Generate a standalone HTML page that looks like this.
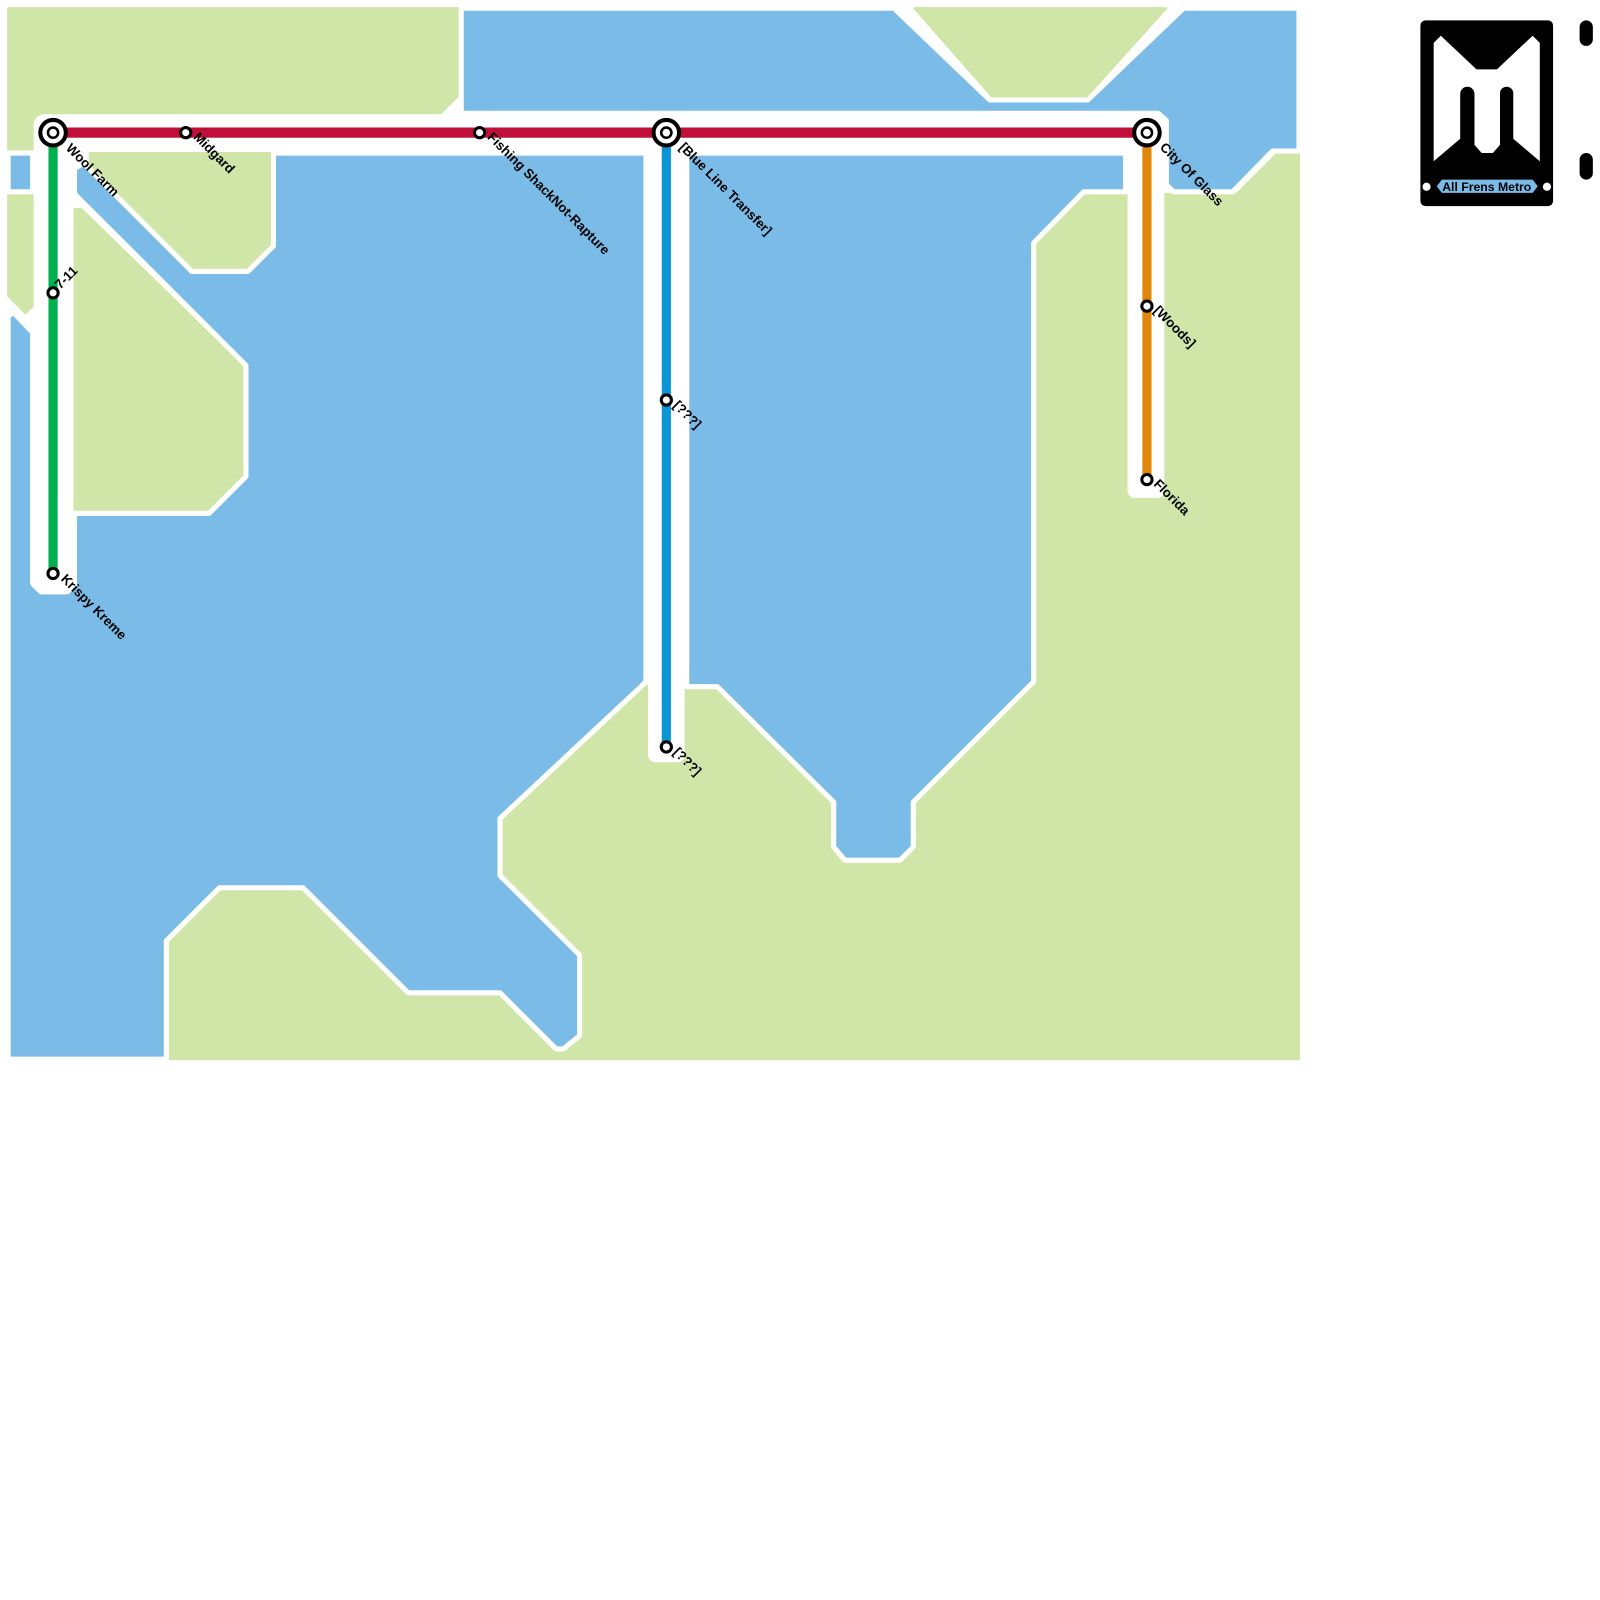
<!DOCTYPE html>
<html><head><meta charset="utf-8"><style>
html,body{margin:0;padding:0;background:#fff;}
svg{display:block;}
text{font-family:"Liberation Sans",Arial,sans-serif;font-weight:bold;font-size:13px;fill:#000;}
</style></head><body>
<svg width="1600" height="1600" viewBox="0 0 1568 1568" xmlns="http://www.w3.org/2000/svg">
<g fill="#d0e5a8" stroke="#d0e5a8" stroke-width="2" stroke-linejoin="round">
<polygon points="8,8 450,8 450,93 432,111 40,111 32,119 32,150 8,150"/>
<polygon points="896,8 1143,8 1062,98 975,98"/>
<polygon points="8,190 32,190 32,300 25,307 8,290"/>
<polygon points="88,150 267,150 267,240 240,268 190,268 88,166"/>
<polygon points="73,205 80,205 241,362 241,465 203,503 73,503"/>
<polygon points="163,860 490,760 633,672 1013,672 1013,240 1064,190 1212,190 1252,150 1273,150 1273,1038 163,1038"/>
</g>
<g fill="#7abce7" stroke="#fff" stroke-width="5" stroke-linejoin="round">
<polygon points="73,165 82,160 188,266 243,266 268,241 268,150 633,150 633,668 627,674 490,802 490,858 568,936 568,1015 552,1028 545,1028 490,973 400,973 297,870 215,870 163,922 163,1038 8,1038 8,310 13,306 32,326 32,572 40,580 66,580 73,573 73,503 205,503 241,467 241,358 73,190"/>
<rect x="8" y="150" width="24" height="38"/>
<polygon points="452,8 876,8 970,98 1066,98 1160,8 1273,8 1273,148 1247,148 1208,188 1150,188 1143,181 1143,118 1135,111 452,111"/>
<polygon points="673,150 1103,150 1103,188 1062,188 1013,238 1013,668 895,786 895,830 882,843 828,843 817,830 817,786 703,673 673,673"/>
</g>
<g fill="#fff">
<rect x="34" y="113" width="1107" height="35" rx="7"/>
<rect x="34" y="113" width="37" height="465" rx="7"/>
<rect x="635" y="113" width="36" height="634" rx="7"/>
<rect x="1105" y="113" width="36" height="375" rx="7"/>
</g>
<g stroke-linecap="butt" fill="none">
<line x1="52" y1="130" x2="52" y2="562" stroke="#00b050" stroke-width="9"/>
<line x1="653" y1="130" x2="653" y2="732" stroke="#0a95d5" stroke-width="9"/>
<line x1="1124" y1="130" x2="1124" y2="470" stroke="#e0870a" stroke-width="9"/>
<line x1="52" y1="130" x2="1124" y2="130" stroke="#c0103a" stroke-width="10"/>
</g>
<g fill="#fff" stroke="#000">
<circle cx="52" cy="130" r="12.5" stroke-width="4"/><circle cx="52" cy="130" r="5" stroke-width="2.5"/>
<circle cx="653" cy="130" r="12.5" stroke-width="4"/><circle cx="653" cy="130" r="5" stroke-width="2.5"/>
<circle cx="1124" cy="130" r="12.5" stroke-width="4"/><circle cx="1124" cy="130" r="5" stroke-width="2.5"/>
<g stroke-width="3">
<circle cx="182" cy="130" r="5"/><circle cx="470" cy="130" r="5"/>
<circle cx="52" cy="287" r="5"/><circle cx="52" cy="562" r="5"/>
<circle cx="653" cy="392" r="5"/><circle cx="653" cy="732" r="5"/>
<circle cx="1124" cy="300" r="5"/><circle cx="1124" cy="470" r="5"/>
</g>
</g>
<text transform="translate(64,146) rotate(45)">Wool Farm</text>
<text transform="translate(189,135) rotate(45)">Midgard</text>
<text transform="translate(477,135) rotate(45)">Fishing ShackNot-Rapture</text>
<text transform="translate(665,145) rotate(45)">[Blue Line Transfer]</text>
<text transform="translate(1136,145) rotate(45)">City Of Glass</text>
<text transform="translate(59,284) rotate(-45)">7-11</text>
<text transform="translate(59,568) rotate(45)">Krispy Kreme</text>
<text transform="translate(659,398) rotate(45)">[???]</text>
<text transform="translate(659,738) rotate(45)">[???]</text>
<text transform="translate(1130,305) rotate(45)">[Woods]</text>
<text transform="translate(1130,475) rotate(45)">Florida</text>
<rect x="1392" y="20" width="130" height="182" rx="5" fill="#000"/>
<polygon points="1405,42 1412,35 1447,68 1467,68 1502,35 1509,42 1509,158 1483,136 1470,136 1470,142 1463,150 1452,150 1445,142 1445,136 1431,136 1405,158" fill="#fff"/>
<rect x="1431" y="85" width="14" height="58" rx="7" fill="#000"/>
<rect x="1470" y="85" width="13" height="58" rx="6.5" fill="#000"/>
<rect x="1548" y="20" width="13" height="25" rx="6.5" fill="#000"/>
<rect x="1548" y="150" width="13" height="26" rx="6.5" fill="#000"/>
<polygon points="1413,176 1502,176 1507,182.5 1502,189 1413,189 1408,182.5" fill="#7abce7"/>
<text x="1457" y="187" text-anchor="middle" style="font-size:12px">All Frens Metro</text>
<circle cx="1398" cy="183" r="4" fill="#fff"/>
<circle cx="1516" cy="183" r="4" fill="#fff"/>
</svg>
</body></html>
